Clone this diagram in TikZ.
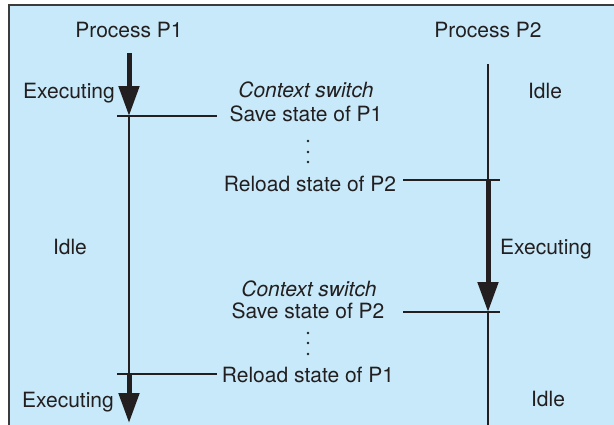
\documentclass[tikz,border=0pt]{standalone}
\usepackage{fontspec}
\setmainfont{TeX Gyre Heros}
\usetikzlibrary{arrows.meta}
\definecolor{panelblue}{RGB}{199,233,249}
\definecolor{framegray}{RGB}{60,60,60}
\definecolor{inkblack}{RGB}{35,31,32}
\tikzstyle{txt} = [inner sep=0pt, anchor=base, text=inkblack, font=\fontsize{21}{25}\selectfont]
\tikzstyle{ctx} = [txt, font=\fontsize{21}{25}\selectfont\itshape]
\tikzstyle{idle} = [draw=inkblack, line width=1.8pt]
\tikzstyle{running} = [draw=inkblack, line width=5pt, -{Triangle[length=30pt,width=20pt]}]
\tikzstyle{tick} = [draw=inkblack, line width=1.8pt]

\begin{document}
\begin{tikzpicture}[x=1pt,y=-1pt]
    \useasboundingbox (0,0) rectangle (614,424);
    \clip (0,0) rectangle (614,424);
    \fill[panelblue] (9,5) rectangle (620,430);
    \draw[framegray, line width=2pt] (9,430) -- (9,5) -- (620,5);

    % time lines
    \coordinate (p1top) at (129,53);
    \coordinate (p1a) at (129,116);
    \coordinate (p1b) at (129,374);
    \coordinate (p1bot) at (129,423);
    \coordinate (p2top) at (488,64);
    \coordinate (p2a) at (488,180);
    \coordinate (p2b) at (488,312);
    \coordinate (p2bot) at (488,430);

    % tick ends
    \coordinate (s1l) at (117,116);
    \coordinate (s1r) at (217,116);
    \coordinate (r2l) at (403,180);
    \coordinate (r2r) at (500,180);
    \coordinate (s2l) at (403,312);
    \coordinate (s2r) at (500,312);
    \coordinate (r1l) at (117,374);
    \coordinate (r1r) at (217,374);

    \node (proc1) [txt] at (129,37) {Process P1};
    \node (proc2) [txt] at (488,37) {Process P2};

    \node (exec1) [txt] at (69,98) {Executing};
    \node (idle1) [txt] at (70,254) {Idle};
    \node (exec3) [txt] at (68,407) {Executing};
    \node (idle2) [txt] at (545,98) {Idle};
    \node (exec2) [txt] at (546,254) {Executing};
    \node (idle3) [txt] at (548,406) {Idle};

    \node (ctx1) [ctx] at (306,97) {Context switch};
    \node (save1) [txt] at (306,121) {Save state of P1};
    \node (reload2) [txt] at (310,191) {Reload state of P2};
    \node (ctx2) [ctx] at (309,296) {Context switch};
    \node (save2) [txt] at (308,318) {Save state of P2};
    \node (reload1) [txt] at (308,382) {Reload state of P1};

    \foreach \y in {141,152,162} \fill[inkblack] (308,\y) circle (1.4);
    \foreach \y in {333,343,354} \fill[inkblack] (308,\y) circle (1.4);

    \draw[running] (p1top) -- (p1a);
    \draw[idle] (p1a) -- (p1b);
    \draw[running] (p1b) -- (p1bot);
    \draw[idle] (p2top) -- (p2a);
    \draw[running] (p2a) -- (p2b);
    \draw[idle] (p2b) -- (p2bot);

    \draw[tick] (s1l) -- (s1r);
    \draw[tick] (r2l) -- (r2r);
    \draw[tick] (s2l) -- (s2r);
    \draw[tick] (r1l) -- (r1r);
\end{tikzpicture}
\end{document}
